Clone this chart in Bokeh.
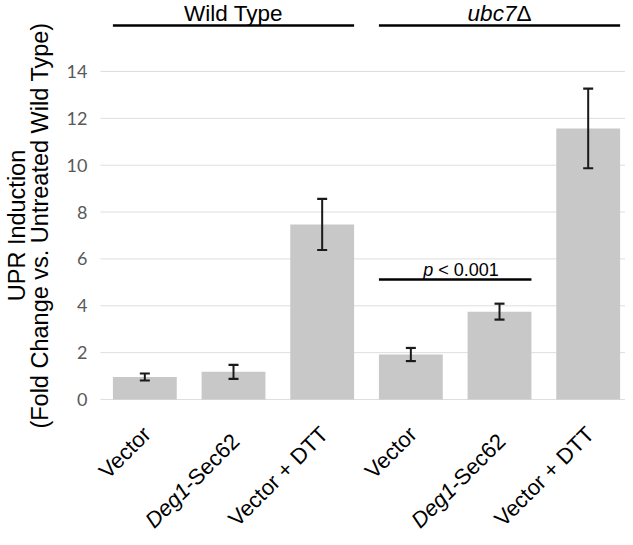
from math import pi, cos, sin
from bokeh.plotting import figure
from bokeh.models import Range1d
from bokeh.core.properties import value
from bokeh.embed import file_html
from bokeh.resources import INLINE

# ---- data ----
categories = ["Vector", "Deg1-Sec62", "Vector + DTT", "Vector", "Deg1-Sec62", "Vector + DTT"]
groups = ["Wild Type", "ubc7\u0394"]
group_members = [[0, 1, 2], [3, 4, 5]]
values = [0.96, 1.18, 7.47, 1.92, 3.75, 11.57]
errors = [0.15, 0.30, 1.09, 0.28, 0.34, 1.70]
y_ticks = [0, 2, 4, 6, 8, 10, 12, 14]
sig_pair = [3, 4]
sig_level = 5.12
sig_text = ["p", "< 0.001"]
y_title = ["UPR Induction", "(Fold Change vs. Untreated Wild Type)"]

FONT = "Liberation Sans"
BAR_W = 0.72
W, H = 625, 537
X0PX, PXX = 100.0, 88.67      # px of x=0, px per x unit
Y0PX, PXY = 399.0, 23.43      # px of y=0, px per y unit

def dx(px):
    return px / PXX

def dy(px):
    return px / PXY

xs = [i + 0.5 for i in range(len(values))]

p = figure(width=W, height=H, output_backend="svg", toolbar_location=None,
           x_range=Range1d(-X0PX / PXX, (W - X0PX) / PXX),
           y_range=Range1d(-(H - Y0PX) / PXY, Y0PX / PXY),
           min_border_left=0, min_border_right=0, min_border_top=0, min_border_bottom=0)
p.outline_line_color = None
p.background_fill_color = "white"
p.border_fill_color = "white"
p.xaxis.visible = False
p.yaxis.visible = False
p.xgrid.visible = False
p.ygrid.visible = False

# gridlines
p.segment(x0=[0] * len(y_ticks), x1=[6] * len(y_ticks), y0=y_ticks, y1=y_ticks,
          line_color="#dedede", line_width=1)
# y tick labels
p.text(x=[0] * len(y_ticks), y=y_ticks, text=[str(t) for t in y_ticks], x_offset=-13,
       text_align="right", text_baseline="middle", text_font=value("Lato"),
       text_font_size="18px", text_color="#595959")

# bars
p.vbar(x=xs, top=values, width=BAR_W, fill_color="#c8c8c8", line_color=None)

# error bars
up = [v + e for v, e in zip(values, errors)]
lo = [v - e for v, e in zip(values, errors)]
p.segment(x0=xs, x1=xs, y0=lo, y1=up, line_width=2, line_color="#1a1a1a")
cap = dx(5)
for ys in (up, lo):
    p.segment(x0=[x - cap for x in xs], x1=[x + cap for x in xs], y0=ys, y1=ys,
              line_width=2.2, line_color="#1a1a1a")

# group header lines and labels
hx0 = [xs[m[0]] - BAR_W / 2 for m in group_members]
hx1 = [xs[m[-1]] + BAR_W / 2 for m in group_members]
p.segment(x0=hx0, x1=hx1, y0=[15.96] * 2, y1=[15.96] * 2, line_width=2.5, line_color="black")
top_y = Y0PX / PXY
HS = 22.5
p.text(x=[xs[1]], y=[top_y], text=[groups[0]], text_align="center", text_baseline="top",
       text_font=value(FONT), text_font_size=f"{HS}px", text_color="black")
split = xs[4] + dx(0.5 * (2.168 + 0.668) * HS - 0.668 * HS)
p.text(x=[split], y=[top_y], text=[groups[1][:-1]], text_align="right", text_baseline="top",
       text_font=value(FONT), text_font_size=f"{HS}px", text_font_style="italic", text_color="black")
p.text(x=[split], y=[top_y], text=[groups[1][-1]], text_align="left", text_baseline="top",
       text_font=value(FONT), text_font_size=f"{HS}px", text_color="black")

# significance bracket
sx0 = xs[sig_pair[0]] - BAR_W / 2
sx1 = xs[sig_pair[1]] + BAR_W / 2
p.segment(x0=[sx0], x1=[sx1], y0=[sig_level], y1=[sig_level], line_width=2.5, line_color="black")
cx = (sx0 + sx1) / 2
ty = sig_level + dy(10)
p.text(x=[cx - dx(22)], y=[ty], text=[sig_text[0]], text_align="right", text_baseline="alphabetic",
       text_font=value(FONT), text_font_size="18px", text_font_style="italic", text_color="black")
p.text(x=[cx - dx(17)], y=[ty], text=[sig_text[1]], text_align="left", text_baseline="alphabetic",
       text_font=value(FONT), text_font_size="18px", text_color="black")

# rotated x labels
LBL_SIZE = 22
a = pi / 4
for i, c in enumerate(categories):
    ax = xs[i] + dx(2)
    if c.startswith("Deg1"):
        ly = -dy(38)
        rest = c[4:]
        wpx = 3.168 * LBL_SIZE
        p.text(x=[ax], y=[ly], text=[rest], angle=a, text_align="right", text_baseline="middle",
               text_font=value(FONT), text_font_size=f"{LBL_SIZE}px", text_color="black")
        p.text(x=[ax - dx(wpx * cos(a))], y=[ly - dy(wpx * sin(a))], text=[c[:4]], angle=a,
               text_align="right", text_baseline="middle", text_font=value(FONT),
               text_font_size=f"{LBL_SIZE}px", text_font_style="italic", text_color="black")
    else:
        ly = -dy(31)
        p.text(x=[ax], y=[ly], text=[c], angle=a, text_align="right", text_baseline="middle",
               text_font=value(FONT), text_font_size=f"{LBL_SIZE}px", text_color="black")

# y axis title (two lines)
for xpx, t in zip([16, 39], y_title):
    p.text(x=[dx(xpx - X0PX)], y=[dy(Y0PX - 225)], text=[t], angle=pi / 2, text_align="center",
           text_baseline="middle", text_font=value(FONT), text_font_size="23.5px",
           text_color="black")

open("out.html", "w").write(file_html(p, INLINE))
